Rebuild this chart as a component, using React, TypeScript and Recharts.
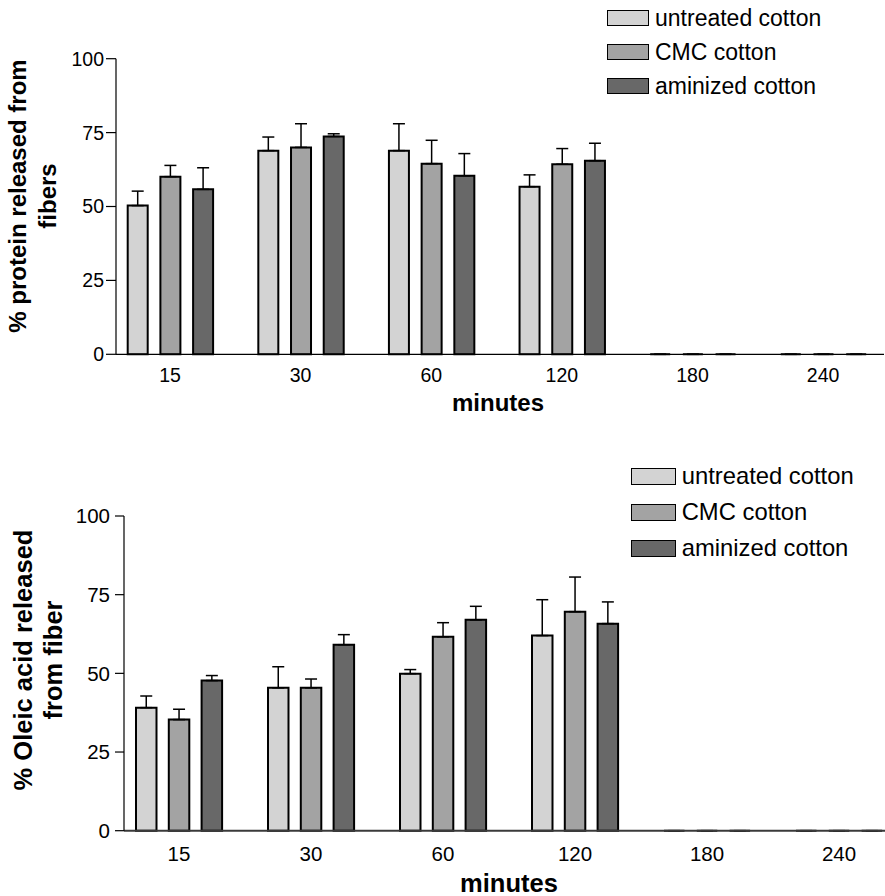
import React from "react";
import { BarChart, Bar, XAxis, YAxis, ErrorBar, Legend } from "recharts";

const minutes = ["15", "30", "60", "120", "180", "240"];
const seriesNames = ["untreated cotton", "CMC cotton", "aminized cotton"];
const seriesColors = ["#d3d3d3", "#a3a3a3", "#686868"];
const yTicks = [0, 25, 50, 75, 100];

// top panel: % protein released
const proteinUntreated = [50.3, 68.9, 68.9, 56.7, 0, 0];
const proteinCmc = [60.1, 70.0, 64.5, 64.3, 0, 0];
const proteinAminized = [55.8, 73.7, 60.4, 65.5, 0, 0];
const proteinUntreatedErr = [4.9, 4.6, 9.1, 4.0, 0, 0];
const proteinCmcErr = [3.8, 8.0, 7.9, 5.3, 0, 0];
const proteinAminizedErr = [7.3, 0.9, 7.5, 5.9, 0, 0];

// bottom panel: % oleic acid released
const oleicUntreated = [39.1, 45.4, 49.9, 62.0, 0, 0];
const oleicCmc = [35.3, 45.4, 61.6, 69.6, 0, 0];
const oleicAminized = [47.7, 59.1, 67.0, 65.8, 0, 0];
const oleicUntreatedErr = [3.7, 6.7, 1.3, 11.4, 0, 0];
const oleicCmcErr = [3.3, 2.8, 4.5, 11.0, 0, 0];
const oleicAminizedErr = [1.6, 3.2, 4.3, 6.9, 0, 0];

const FONT = "'Liberation Sans', Arial, sans-serif";

function buildRows(vals: number[][], errs: number[][]) {
  return minutes.map((m, i) => ({
    minutes: m,
    s0: vals[0][i],
    s1: vals[1][i],
    s2: vals[2][i],
    e0: [0, errs[0][i]],
    e1: [0, errs[1][i]],
    e2: [0, errs[2][i]],
  }));
}

const proteinRows = buildRows(
  [proteinUntreated, proteinCmc, proteinAminized],
  [proteinUntreatedErr, proteinCmcErr, proteinAminizedErr]
);
const oleicRows = buildRows(
  [oleicUntreated, oleicCmc, oleicAminized],
  [oleicUntreatedErr, oleicCmcErr, oleicAminizedErr]
);

// path instead of rect so zero-height bars still show their outline
const OutlinedBar = (props: any) => {
  const { x, y, width, height, fill } = props;
  return (
    <path
      d={`M${x},${y}h${width}v${height}h${-width}Z`}
      fill={fill}
      stroke="#000"
      strokeWidth={2}
    />
  );
};

type Panel = {
  rows: any[];
  top: number;
  height: number;
  plotLeft: number;
  plotRight: number;
  plotTop: number;
  plotBottom: number;
  padL: number;
  padR: number;
  barSize: number;
  barGap: number;
  tickFont: number;
  yTickSize: number;
  yTickMargin: number;
  xTickMargin: number;
  xLineColor: string;
  xLineWidth: number;
  titleFont: number;
  yTitle: string[];
  yTitleX: number[];
  yTitleCy: number;
  xTitleX: number;
  xTitleY: number;
  legendFont: number;
  legendLeft: number;
  legendTop: number;
  legendRow: number;
  boxW: number;
  boxH: number;
};

function ReleasePanel({ p }: { p: Panel }) {
  const yAxisW = 60;
  const xAxisH = 30;
  const margin = {
    top: p.plotTop,
    right: 885 - p.plotRight,
    bottom: p.height - p.plotBottom - xAxisH,
    left: p.plotLeft - yAxisW,
  };

  const legendContent = () => (
    <div style={{ fontFamily: FONT }}>
      {seriesNames.map((n, i) => (
        <div
          key={n}
          style={{ display: "flex", alignItems: "center", height: p.legendRow }}
        >
          <div
            style={{
              width: p.boxW,
              height: p.boxH,
              boxSizing: "border-box",
              border: "1.5px solid #000",
              background: seriesColors[i],
              marginRight: 6,
            }}
          />
          <span style={{ fontSize: p.legendFont, lineHeight: `${p.legendRow}px`, color: "#000" }}>
            {n}
          </span>
        </div>
      ))}
    </div>
  );

  const yTitleGroup = () => (
    <g>
      {p.yTitle.map((line, i) => (
        <text
          key={line}
          transform={`translate(${p.yTitleX[i]},${p.yTitleCy}) rotate(-90)`}
          fontFamily={FONT}
          fontWeight="bold"
          fontSize={p.titleFont}
          fill="#000"
          textAnchor="middle"
        >
          {line}
        </text>
      ))}
    </g>
  );

  const xTitle = () => (
    <text
      x={p.xTitleX}
      y={p.xTitleY}
      fontFamily={FONT}
      fontWeight="bold"
      fontSize={p.titleFont}
      fill="#000"
      textAnchor="middle"
    >
      minutes
    </text>
  );

  return (
    <div style={{ position: "absolute", left: 0, top: p.top }}>
      <BarChart
        width={885}
        height={p.height}
        data={p.rows}
        margin={margin}
        barSize={p.barSize}
        barGap={p.barGap}
      >
        <XAxis
          dataKey="minutes"
          height={xAxisH}
          padding={{ left: p.padL, right: p.padR }}
          tickLine={false}
          tickSize={0}
          tickMargin={p.xTickMargin}
          axisLine={{ stroke: p.xLineColor, strokeWidth: p.xLineWidth }}
          tick={{ fill: "#000", fontSize: p.tickFont, fontFamily: FONT }}
          interval={0}
          label={{ content: xTitle }}
        />
        <YAxis
          width={yAxisW}
          domain={[0, 100]}
          ticks={yTicks}
          interval={0}
          tickSize={p.yTickSize}
          tickMargin={p.yTickMargin}
          axisLine={{ stroke: "#000", strokeWidth: 1.2 }}
          tickLine={{ stroke: "#000", strokeWidth: 1.2 }}
          tick={{ fill: "#000", fontSize: p.tickFont, fontFamily: FONT }}
          label={{ content: yTitleGroup }}
        />
        <Legend
          layout="vertical"
          align="center"
          verticalAlign="middle"
          wrapperStyle={{ top: p.legendTop, left: p.legendLeft, width: "auto", height: "auto" }}
          content={legendContent}
        />
        {[0, 1, 2].map((i) => (
          <Bar
            key={i}
            dataKey={`s${i}`}
            name={seriesNames[i]}
            fill={seriesColors[i]}
            shape={OutlinedBar}
            isAnimationActive={false}
          >
            <ErrorBar
              dataKey={`e${i}`}
              direction="y"
              width={6}
              stroke="#000"
              strokeWidth={1.5}
            />
          </Bar>
        ))}
      </BarChart>
    </div>
  );
}

const topPanel: Panel = {
  rows: proteinRows,
  top: 0,
  height: 440,
  plotLeft: 116,
  plotRight: 884,
  plotTop: 58.7,
  plotBottom: 354.3,
  padL: -11.3,
  padR: -4.4,
  barSize: 20,
  barGap: 12.7,
  tickFont: 19.5,
  yTickSize: 10,
  yTickMargin: 2,
  xTickMargin: 14,
  xLineColor: "#000",
  xLineWidth: 1.2,
  titleFont: 24,
  yTitle: ["% protein released from", "fibers"],
  yTitleX: [26, 56],
  yTitleCy: 196,
  xTitleX: 498,
  xTitleY: 411,
  legendFont: 23,
  legendLeft: 607,
  legendTop: 1.3,
  legendRow: 34,
  boxW: 42,
  boxH: 16,
};

const bottomPanel: Panel = {
  rows: oleicRows,
  top: 440,
  height: 456,
  plotLeft: 124,
  plotRight: 885,
  plotTop: 76,
  plotBottom: 390.7,
  padL: -11,
  padR: -20,
  barSize: 20.5,
  barGap: 12.3,
  tickFont: 20.5,
  yTickSize: 9,
  yTickMargin: 5,
  xTickMargin: 16,
  xLineColor: "#3a3a3a",
  xLineWidth: 2,
  titleFont: 25.5,
  yTitle: ["% Oleic acid released", "from fiber"],
  yTitleX: [31.5, 61.5],
  yTitleCy: 220,
  xTitleX: 509,
  xTitleY: 451.5,
  legendFont: 23.8,
  legendLeft: 630.7,
  legendTop: 18.2,
  legendRow: 36,
  boxW: 45,
  boxH: 17,
};

export default function App() {
  return (
    <div
      style={{
        position: "absolute",
        left: 0,
        top: 0,
        width: 885,
        height: 896,
        background: "#fff",
        fontFamily: FONT,
      }}
    >
      <ReleasePanel p={topPanel} />
      <ReleasePanel p={bottomPanel} />
    </div>
  );
}
